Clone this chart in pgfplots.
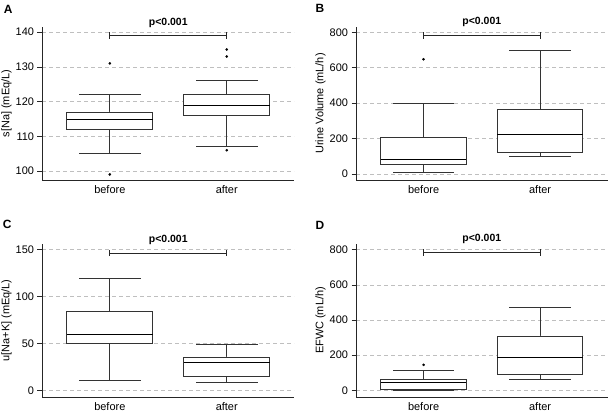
\documentclass[border=0pt]{standalone}
\usepackage{fontspec}
\setmainfont{Liberation Sans}
\usepackage{pgfplots}
\pgfplotsset{compat=1.18}

\pgfplotsset{
 panel/.style={
  scale only axis, width=252bp, height=153bp,
  anchor=south west,
  xmin=0.42, xmax=2.575,
  axis x line*=bottom, axis y line*=left,
  axis line style={black!85, line width=0.8bp},
  xtick={1,2}, xticklabels={before,after},
  major x tick style={draw=none},
  tick align=outside, major tick length=4.5bp,
  ytick style={black!85, line width=0.6bp},
  ymajorgrids, grid style={dash pattern=on 4bp off 3bp, black!25, line width=0.6bp},
  tick label style={font=\fontsize{11}{13}\selectfont},
  xticklabel style={yshift=2bp},
  /pgf/number format/assume math mode=true,
  every axis y label/.style={at={([xshift=-35.5bp]axis description cs:0,0.5)}, rotate=90, anchor=center, font=\fontsize{11}{13}\selectfont},
  clip=false,
 },
 bxl/.style={black!80, line width=0.8bp, solid, line cap=rect, mark=none},
 mdl/.style={black, line width=0.8bp, solid, mark=none},
 outl/.style={only marks, mark=*, mark size=1.1bp, black},
 br/.style={black!85, line width=0.8bp},
}
\tikzset{pv/.style={font=\bfseries\fontsize{10.5}{12}\selectfont, yshift=13bp}}

% #1 lower whisker, #2 lower quartile, #3 median, #4 upper quartile, #5 upper whisker
\newcommand{\boxone}[5]{%
 \addplot[bxl] coordinates {(1,#4) (1,#5)};
 \addplot[bxl] coordinates {(1,#2) (1,#1)};
 \addplot[bxl] coordinates {(0.74,#5) (1.26,#5)};
 \addplot[bxl] coordinates {(0.74,#1) (1.26,#1)};
 \addplot[bxl, fill=white] coordinates {(0.6325,#2) (1.3675,#2) (1.3675,#4) (0.6325,#4) (0.6325,#2)};
 \addplot[mdl] coordinates {(0.6325,#3) (1.3675,#3)};
}
\newcommand{\boxtwo}[5]{%
 \addplot[bxl] coordinates {(2,#4) (2,#5)};
 \addplot[bxl] coordinates {(2,#2) (2,#1)};
 \addplot[bxl] coordinates {(1.74,#5) (2.26,#5)};
 \addplot[bxl] coordinates {(1.74,#1) (2.26,#1)};
 \addplot[bxl, fill=white] coordinates {(1.6325,#2) (2.3675,#2) (2.3675,#4) (1.6325,#4) (1.6325,#2)};
 \addplot[mdl] coordinates {(1.6325,#3) (2.3675,#3)};
}

\begin{document}
\begin{tikzpicture}
\useasboundingbox (0,0) rectangle (608bp,413bp);

% Panel A
\begin{axis}[panel, at={(42bp,233bp)}, ymin=97.4, ymax=141.5, ytick={100,110,120,130,140}, ylabel={s[Na] (mEq/L)}]
\boxone{105}{112}{115}{117}{122}
\boxtwo{107}{116}{119}{122}{126}
\addplot[outl] coordinates {(1,131) (1,99) (2,133) (2,135) (2,106)};
\addplot[br] coordinates {(1,139) (2,139)};
\addplot[br] coordinates {(1,138.05) (1,139.95)};
\addplot[br] coordinates {(2,138.05) (2,139.95)};
\node[pv] at (axis cs:1.5,139) {p<0.001};
\end{axis}

% Panel B
\begin{axis}[panel, at={(356bp,233bp)}, xmax=2.583, ymin=-33.8, ymax=830, ytick={0,200,400,600,800}, ylabel={Urine Volume (mL/h)}]
\boxone{10}{55}{85}{204}{400}
\boxtwo{99}{121}{224}{367}{699}
\addplot[outl] coordinates {(1,648)};
\addplot[br] coordinates {(1,783) (2,783)};
\addplot[br] coordinates {(1,764) (1,802)};
\addplot[br] coordinates {(2,764) (2,802)};
\node[pv] at (axis cs:1.5,783) {p<0.001};
\end{axis}

% Panel C
\begin{axis}[panel, at={(42bp,16bp)}, ymin=-6.6, ymax=156, ytick={0,50,100,150}, ylabel={u[Na+K] (mEq/L)}]
\boxone{11}{50}{60}{84}{119}
\boxtwo{8.5}{15}{30}{36}{49.5}
\addplot[br] coordinates {(1,146.5) (2,146.5)};
\addplot[br] coordinates {(1,143) (1,150)};
\addplot[br] coordinates {(2,143) (2,150)};
\node[pv] at (axis cs:1.5,146.5) {p<0.001};
\end{axis}

% Panel D
\begin{axis}[panel, at={(356bp,16bp)}, xmax=2.583, ymin=-38, ymax=832, ytick={0,200,400,600,800}, ylabel={EFWC (mL/h)}]
\boxone{0}{7.5}{44}{62}{115}
\boxtwo{60}{89}{187}{309}{472}
\addplot[outl] coordinates {(1,145)};
\addplot[br] coordinates {(1,785) (2,785)};
\addplot[br] coordinates {(1,766) (1,804)};
\addplot[br] coordinates {(2,766) (2,804)};
\node[pv] at (axis cs:1.5,785) {p<0.001};
\end{axis}

\node[font=\bfseries\fontsize{12}{14}\selectfont] at (8.3bp,403.8bp) {A};
\node[font=\bfseries\fontsize{12}{14}\selectfont] at (320bp,404.5bp) {B};
\node[font=\bfseries\fontsize{12}{14}\selectfont] at (7.2bp,188.5bp) {C};
\node[font=\bfseries\fontsize{12}{14}\selectfont] at (320bp,188bp) {D};
\end{tikzpicture}
\end{document}
